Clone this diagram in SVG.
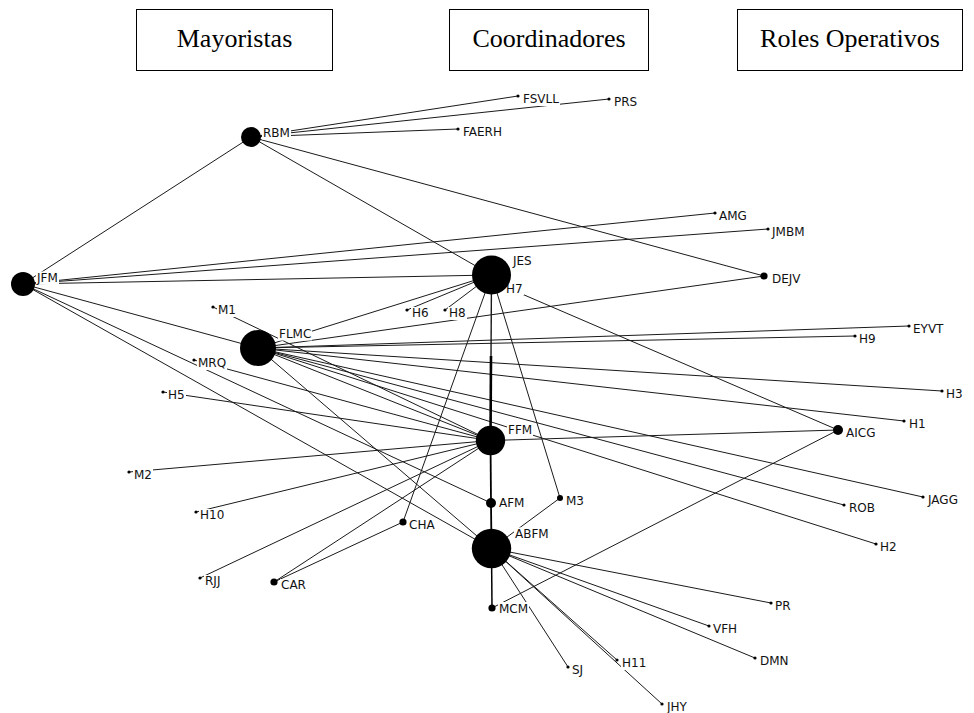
<svg xmlns="http://www.w3.org/2000/svg" width="974" height="713" viewBox="0 0 974 713">
<style>
.e{stroke:#1a1a1a;stroke-width:1;fill:none}
.k{stroke:#000;stroke-width:2.6;fill:none}
.k2{stroke:#000;stroke-width:1.8;fill:none}
.bg{fill:#fff}
.n{fill:#000}
.l{font-family:"DejaVu Sans",Verdana,sans-serif;font-size:12px;fill:#111}
.hb{fill:#fff;stroke:#000;stroke-width:1}
.ht{font-family:"Liberation Serif","Times New Roman",serif;font-size:26px;fill:#000;text-anchor:middle}
</style>
<rect width="974" height="713" fill="#fff"/>
<g id="headers">
<rect class="hb" x="136.5" y="9.5" width="196" height="61"/>
<text class="ht" x="234.5" y="47">Mayoristas</text>
<rect class="hb" x="449.5" y="9.5" width="199" height="61"/>
<text class="ht" x="549" y="47">Coordinadores</text>
<rect class="hb" x="737.5" y="9.5" width="225" height="61"/>
<text class="ht" x="850" y="47">Roles Operativos</text>
</g>
<g id="edges">
<line class="e" x1="251" y1="137" x2="518" y2="96"/>
<line class="e" x1="251" y1="137" x2="609" y2="99"/>
<line class="e" x1="251" y1="137" x2="458" y2="129"/>
<line class="e" x1="251" y1="137" x2="23" y2="284"/>
<line class="e" x1="251" y1="137" x2="491.5" y2="275"/>
<line class="e" x1="251" y1="137" x2="764" y2="276"/>
<line class="e" x1="23" y1="284" x2="715" y2="213"/>
<line class="e" x1="23" y1="284" x2="768" y2="229"/>
<line class="e" x1="23" y1="284" x2="491.5" y2="275"/>
<line class="e" x1="23" y1="284" x2="258" y2="348"/>
<line class="e" x1="23" y1="284" x2="491" y2="503"/>
<line class="e" x1="23" y1="284" x2="491.5" y2="548.5"/>
<line class="e" x1="491.5" y1="275" x2="407" y2="310"/>
<line class="e" x1="491.5" y1="275" x2="445" y2="310"/>
<line class="e" x1="491.5" y1="275" x2="258" y2="348"/>
<line class="e" x1="491.5" y1="275" x2="403" y2="522"/>
<line class="e" x1="491.5" y1="275" x2="560" y2="498"/>
<line class="e" x1="501" y1="285" x2="838" y2="430"/>
<line class="e" x1="258" y1="348" x2="764" y2="276"/>
<line class="e" x1="258" y1="348" x2="909" y2="326"/>
<line class="e" x1="258" y1="348" x2="855" y2="336"/>
<line class="e" x1="258" y1="348" x2="942" y2="391"/>
<line class="e" x1="258" y1="348" x2="904" y2="421"/>
<line class="e" x1="258" y1="348" x2="923" y2="497"/>
<line class="e" x1="258" y1="348" x2="844" y2="505"/>
<line class="e" x1="258" y1="348" x2="876" y2="544"/>
<line class="e" x1="258" y1="348" x2="490.5" y2="440.5"/>
<line class="e" x1="258" y1="348" x2="491.5" y2="548.5"/>
<line class="e" x1="213" y1="307" x2="490.5" y2="440.5"/>
<line class="e" x1="194" y1="360" x2="490.5" y2="440.5"/>
<line class="e" x1="163" y1="392" x2="490.5" y2="440.5"/>
<line class="e" x1="129" y1="472" x2="490.5" y2="440.5"/>
<line class="e" x1="196" y1="512" x2="490.5" y2="440.5"/>
<line class="e" x1="200" y1="578" x2="490.5" y2="440.5"/>
<line class="e" x1="274" y1="582" x2="490.5" y2="440.5"/>
<line class="e" x1="274" y1="582" x2="403" y2="522"/>
<line class="e" x1="490.5" y1="440.5" x2="838" y2="430"/>
<line class="e" x1="491.5" y1="548.5" x2="560" y2="498"/>
<line class="e" x1="491.5" y1="548.5" x2="771" y2="603"/>
<line class="e" x1="491.5" y1="548.5" x2="709" y2="626"/>
<line class="e" x1="491.5" y1="548.5" x2="755" y2="658"/>
<line class="e" x1="491.5" y1="548.5" x2="568" y2="667"/>
<line class="e" x1="491.5" y1="548.5" x2="617" y2="660"/>
<line class="e" x1="491.5" y1="548.5" x2="662" y2="704"/>
<line class="e" x1="492" y1="608" x2="838" y2="430"/>
<line class="e" x1="491.5" y1="275" x2="491" y2="358" style="stroke-width:1.4"/>
<line class="k" x1="491" y1="356" x2="490.5" y2="440.5"/>
<line class="k2" x1="490.5" y1="440.5" x2="491" y2="503"/>
<line class="k2" x1="491" y1="503" x2="491.5" y2="548.5"/>
<line class="k2" x1="491.5" y1="548.5" x2="492" y2="608" style="stroke-width:1.5"/>
</g>
<g id="n-FSVLL"><rect class="bg" x="522" y="93" width="38" height="13"/><text class="l" x="523" y="103">FSVLL</text><circle class="n" cx="518" cy="96" r="1.6"/></g>
<g id="n-PRS"><rect class="bg" x="613" y="96" width="25" height="13"/><text class="l" x="614" y="106">PRS</text><circle class="n" cx="609" cy="99" r="1.6"/></g>
<g id="n-FAERH"><rect class="bg" x="462" y="126" width="42" height="13"/><text class="l" x="463" y="136">FAERH</text><circle class="n" cx="458" cy="129" r="1.6"/></g>
<g id="n-AMG"><rect class="bg" x="718" y="210" width="30" height="13"/><text class="l" x="719" y="220">AMG</text><circle class="n" cx="715" cy="213" r="1.6"/></g>
<g id="n-JMBM"><rect class="bg" x="771" y="226" width="35" height="13"/><text class="l" x="772" y="236">JMBM</text><circle class="n" cx="768" cy="229" r="1.6"/></g>
<g id="n-DEJV"><rect class="bg" x="771" y="273" width="31" height="13"/><text class="l" x="772" y="283">DEJV</text><circle class="n" cx="764" cy="276" r="3.6"/></g>
<g id="n-EYVT"><rect class="bg" x="912" y="323" width="33" height="13"/><text class="l" x="913" y="333">EYVT</text><circle class="n" cx="909" cy="326" r="1.6"/></g>
<g id="n-H9"><rect class="bg" x="858" y="333" width="19" height="13"/><text class="l" x="859" y="343">H9</text><circle class="n" cx="855" cy="336" r="1.6"/></g>
<g id="n-H3"><rect class="bg" x="945" y="388" width="19" height="13"/><text class="l" x="946" y="398">H3</text><circle class="n" cx="942" cy="391" r="1.6"/></g>
<g id="n-H1"><rect class="bg" x="908" y="418" width="19" height="13"/><text class="l" x="909" y="428">H1</text><circle class="n" cx="904" cy="421" r="1.6"/></g>
<g id="n-AICG"><rect class="bg" x="845" y="427" width="32" height="13"/><text class="l" x="846" y="437">AICG</text><circle class="n" cx="838" cy="430" r="5"/></g>
<g id="n-JAGG"><rect class="bg" x="927" y="494" width="33" height="13"/><text class="l" x="928" y="504">JAGG</text><circle class="n" cx="923" cy="497" r="1.6"/></g>
<g id="n-ROB"><rect class="bg" x="848" y="502" width="28" height="13"/><text class="l" x="849" y="512">ROB</text><circle class="n" cx="844" cy="505" r="1.6"/></g>
<g id="n-H2"><rect class="bg" x="879" y="541" width="19" height="13"/><text class="l" x="880" y="551">H2</text><circle class="n" cx="876" cy="544" r="1.6"/></g>
<g id="n-M1"><rect class="bg" x="217" y="304" width="20" height="13"/><text class="l" x="218" y="314">M1</text><circle class="n" cx="213" cy="307" r="1.6"/></g>
<g id="n-MRQ"><rect class="bg" x="197" y="357" width="30" height="13"/><text class="l" x="198" y="367">MRQ</text><circle class="n" cx="194" cy="360" r="1.6"/></g>
<g id="n-H5"><rect class="bg" x="167" y="389" width="19" height="13"/><text class="l" x="168" y="399">H5</text><circle class="n" cx="163" cy="392" r="1.6"/></g>
<g id="n-M2"><rect class="bg" x="133" y="469" width="20" height="13"/><text class="l" x="134" y="479">M2</text><circle class="n" cx="129" cy="472" r="1.6"/></g>
<g id="n-H10"><rect class="bg" x="199" y="509" width="26" height="13"/><text class="l" x="200" y="519">H10</text><circle class="n" cx="196" cy="512" r="1.6"/></g>
<g id="n-H6"><rect class="bg" x="411" y="307" width="19" height="13"/><text class="l" x="412" y="317">H6</text><circle class="n" cx="407" cy="310" r="1.6"/></g>
<g id="n-H8"><rect class="bg" x="448" y="307" width="19" height="13"/><text class="l" x="449" y="317">H8</text><circle class="n" cx="445" cy="310" r="1.6"/></g>
<g id="n-M3"><rect class="bg" x="565" y="495" width="20" height="13"/><text class="l" x="566" y="505">M3</text><circle class="n" cx="560" cy="498" r="3"/></g>
<g id="n-CHA"><rect class="bg" x="408" y="519" width="28" height="13"/><text class="l" x="409" y="529">CHA</text><circle class="n" cx="403" cy="522" r="3.6"/></g>
<g id="n-CAR"><rect class="bg" x="280" y="579" width="27" height="13"/><text class="l" x="281" y="589">CAR</text><circle class="n" cx="274" cy="582" r="3.6"/></g>
<g id="n-RJJ"><rect class="bg" x="204" y="575" width="18" height="13"/><text class="l" x="205" y="585">RJJ</text><circle class="n" cx="200" cy="578" r="1.6"/></g>
<g id="n-PR"><rect class="bg" x="774" y="600" width="18" height="13"/><text class="l" x="775" y="610">PR</text><circle class="n" cx="771" cy="603" r="1.6"/></g>
<g id="n-VFH"><rect class="bg" x="712" y="623" width="26" height="13"/><text class="l" x="713" y="633">VFH</text><circle class="n" cx="709" cy="626" r="1.6"/></g>
<g id="n-DMN"><rect class="bg" x="759" y="655" width="31" height="13"/><text class="l" x="760" y="665">DMN</text><circle class="n" cx="755" cy="658" r="1.6"/></g>
<g id="n-SJ"><rect class="bg" x="571" y="664" width="14" height="13"/><text class="l" x="572" y="674">SJ</text><circle class="n" cx="568" cy="667" r="1.6"/></g>
<g id="n-H11"><rect class="bg" x="621" y="657" width="26" height="13"/><text class="l" x="622" y="667">H11</text><circle class="n" cx="617" cy="660" r="1.6"/></g>
<g id="n-JHY"><rect class="bg" x="666" y="701" width="22" height="13"/><text class="l" x="667" y="711">JHY</text><circle class="n" cx="662" cy="704" r="1.6"/></g>
<g id="n-MCM"><rect class="bg" x="498" y="602" width="31" height="13"/><text class="l" x="499" y="612.5">MCM</text><circle class="n" cx="492" cy="608" r="3.6"/></g>
<g id="n-H7"><rect class="bg" x="505" y="282" width="19" height="13"/><text class="l" x="506" y="292.5">H7</text><circle class="n" cx="501" cy="285" r="1.6"/></g>
<g id="n-RBM"><rect class="bg" x="262" y="126.5" width="29" height="13"/><text class="l" x="263" y="136.5">RBM</text><circle class="n" cx="251" cy="137" r="10"/></g>
<g id="n-JFM"><rect class="bg" x="36" y="271.5" width="23" height="13"/><text class="l" x="37" y="281.5">JFM</text><circle class="n" cx="23" cy="284" r="12"/></g>
<g id="n-JES"><rect class="bg" x="512" y="254.5" width="21" height="13"/><text class="l" x="513" y="264.5">JES</text><circle class="n" cx="491.5" cy="275" r="19.5"/></g>
<g id="n-FLMC"><rect class="bg" x="278" y="327.5" width="34" height="13"/><text class="l" x="279" y="337.5">FLMC</text><circle class="n" cx="258" cy="348" r="18"/></g>
<g id="n-FFM"><rect class="bg" x="507" y="423.5" width="26" height="13"/><text class="l" x="508" y="433.5">FFM</text><circle class="n" cx="490.5" cy="440.5" r="14.7"/></g>
<g id="n-AFM"><rect class="bg" x="498" y="496.5" width="27" height="13"/><text class="l" x="499" y="506.5">AFM</text><circle class="n" cx="491" cy="503" r="5"/></g>
<g id="n-ABFM"><rect class="bg" x="514" y="527.5" width="36" height="13"/><text class="l" x="515" y="537.5">ABFM</text><circle class="n" cx="491.5" cy="548.5" r="19.7"/></g>
</svg>
